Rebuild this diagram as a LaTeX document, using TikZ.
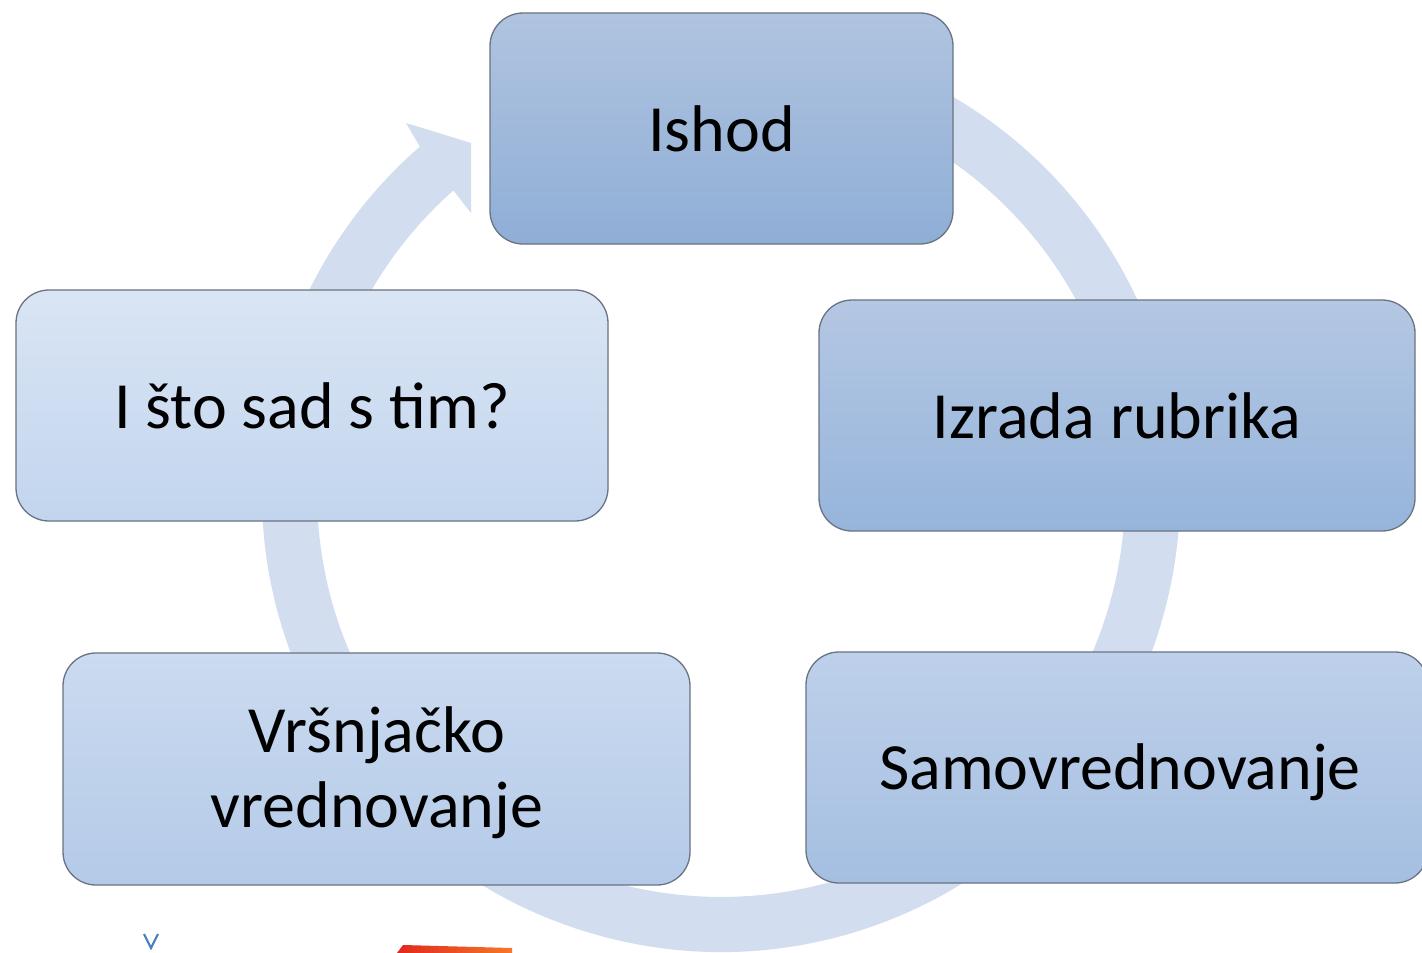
\documentclass[tikz,border=0pt]{standalone}
\usepackage{fontspec}
\setmainfont{Carlito}
\definecolor{ringc}{RGB}{210,222,239}
\definecolor{edgec}{RGB}{105,115,130}
\definecolor{aT}{RGB}{176,196,224}\definecolor{aB}{RGB}{143,174,214}
\definecolor{bT}{RGB}{180,199,227}\definecolor{bB}{RGB}{150,181,219}
\definecolor{cT}{RGB}{190,208,234}\definecolor{cB}{RGB}{165,191,225}
\definecolor{dT}{RGB}{203,219,240}\definecolor{dB}{RGB}{180,202,232}
\definecolor{eT}{RGB}{218,229,244}\definecolor{eB}{RGB}{194,213,238}
\definecolor{fragblue}{RGB}{70,130,195}
\definecolor{fragred}{RGB}{225,40,30}
\definecolor{fragorange}{RGB}{245,120,40}
\tikzset{
  stagebox/.style={draw=edgec, line width=1.3pt, rounded corners=33pt,
    inner sep=0pt, align=center, text=black,
    font=\fontsize{66}{75}\selectfont},
  stagetext/.style={inner sep=0pt, align=center, text=black,
    font=\fontsize{66}{75}\selectfont},
}
\begin{document}
\begin{tikzpicture}[x=1pt,y=-1pt]
\useasboundingbox (0,0) rectangle (1422,953);
\clip (0,0) rectangle (1422,953);
\fill[white] (0,0) rectangle (1422,953);
\coordinate (C) at (721,493);
% ring arrow
\fill[ringc] (C) ++(-75:459) arc[start angle=-75, end angle=229, radius=459]
  -- (406,123) -- (471,143) -- (471,213) -- (453.4,190.4)
  arc[start angle=228.5, end angle=-75, radius=404] -- cycle;
% boxes
\node[stagebox, minimum width=463pt, minimum height=231pt, top color=aT, bottom color=aB]
  (ishod) at (721.5,128.5) {Ishod};
\node[stagebox, minimum width=596pt, minimum height=231pt, top color=bT, bottom color=bB]
  (izrada) at (1117,415.5) {Izrada rubrika};
\node[stagebox, minimum width=622pt, minimum height=231pt, top color=cT, bottom color=cB]
  (samo) at (1117,767.5) {};
\node[stagetext] (samotext) at (1120,772) {Samovrednovanje};
\node[stagebox, minimum width=627pt, minimum height=232pt, top color=dT, bottom color=dB]
  (vrs) at (376.5,769) {};
\node[stagetext] (vrstext) at (377,773) {Vršnjačko\\vrednovanje};
\node[stagebox, minimum width=592pt, minimum height=231pt, top color=eT, bottom color=eB]
  (sto) at (312,405.5) {I što sad s tim?};
% fragments at the bottom edge
\draw[fragblue, line width=2.2pt] (144,934) -- (151,948) -- (158,934);
\shade[left color=fragred, right color=fragorange] (397,953) -- (403,945) -- (512,948) -- (512,953) -- cycle;
\end{tikzpicture}
\end{document}
